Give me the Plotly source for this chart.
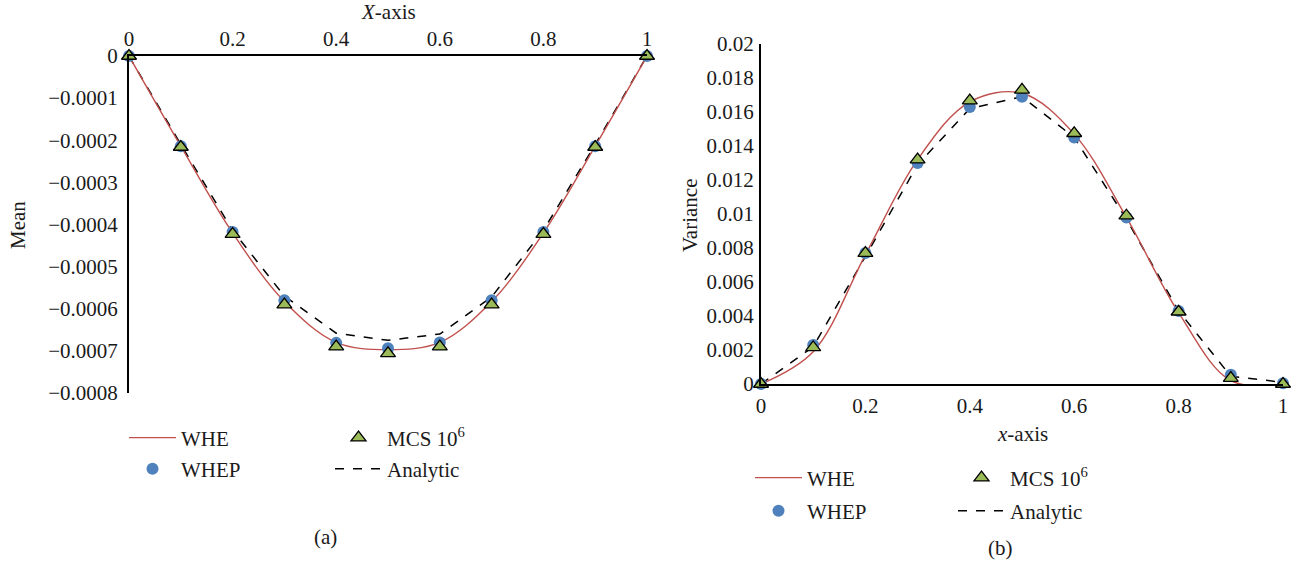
import plotly.graph_objects as go

# ---------------- data ----------------
x_pts = [0, 0.1, 0.2, 0.3, 0.4, 0.5, 0.6, 0.7, 0.8, 0.9, 1.0]

mean_whe = [0, -0.000214, -0.000420, -0.000583, -0.000680, -0.000697, -0.000680, -0.000583, -0.000420, -0.000214, 0]
mean_whep = [0, -0.000214, -0.000418, -0.000580, -0.000681, -0.000694, -0.000680, -0.000580, -0.000418, -0.000214, 0]
mean_mcs = [0, -0.000216, -0.000423, -0.000590, -0.000690, -0.000706, -0.000690, -0.000590, -0.000423, -0.000216, 0]
mean_analytic = [0, -0.000210, -0.000414, -0.000570, -0.000658, -0.000675, -0.000660, -0.000572, -0.000414, -0.000210, 0]

var_whe = [0, 0.0019, 0.0076, 0.0132, 0.0166, 0.0171, 0.0147, 0.0098, 0.0042, 0.0002, 0]
var_whep = [0, 0.0023, 0.0077, 0.0130, 0.0163, 0.0169, 0.0145, 0.0098, 0.0043, 0.00055, 0.00005]
var_mcs = [0, 0.00215, 0.0077, 0.0132, 0.01667, 0.0173, 0.01475, 0.0099, 0.00425, 0.00035, 0]
var_analytic = [0, 0.0022, 0.0075, 0.0129, 0.0162, 0.0169, 0.0145, 0.0097, 0.0043, 0.00045, 0.0001]

x_ticks = [0, 0.2, 0.4, 0.6, 0.8, 1]
x_ticktext = ["0", "0.2", "0.4", "0.6", "0.8", "1"]
mean_ticks = [0, -0.0001, -0.0002, -0.0003, -0.0004, -0.0005, -0.0006, -0.0007, -0.0008]
mean_ticktext = ["0", "\u22120.0001", "\u22120.0002", "\u22120.0003", "\u22120.0004",
                 "\u22120.0005", "\u22120.0006", "\u22120.0007", "\u22120.0008"]
var_ticks = [0, 0.002, 0.004, 0.006, 0.008, 0.01, 0.012, 0.014, 0.016, 0.018, 0.02]
var_ticktext = ["0", "0.002", "0.004", "0.006", "0.008", "0.01", "0.012", "0.014", "0.016", "0.018", "0.02"]

series_names = ["WHE", "WHEP", "MCS 10<sup>6</sup>", "Analytic"]

# ---------------- style ----------------
FONT = "Liberation Serif"
FS = 21
RED = "#C0504D"
BLUE = "#4F81BD"
GREEN = "#9BBB59"
TXT = "#1a1a1a"
W, H = 1299, 562

fig = go.Figure()


def add_set(xa, ya, whe, whep, mcs, ana, legs):
    fig.add_trace(go.Scatter(x=x_pts, y=ana, mode="lines", name=series_names[3],
                             line=dict(color="black", width=1.5, dash="dash"),
                             xaxis=xa, yaxis=ya, legend=legs[3], cliponaxis=False))
    fig.add_trace(go.Scatter(x=x_pts, y=whe, mode="lines", name=series_names[0],
                             line=dict(color=RED, width=1.4, shape="spline", smoothing=1.0),
                             xaxis=xa, yaxis=ya, legend=legs[0], cliponaxis=False))
    fig.add_trace(go.Scatter(x=x_pts, y=whep, mode="markers", name=series_names[1],
                             marker=dict(color=BLUE, size=12, symbol="circle"),
                             xaxis=xa, yaxis=ya, legend=legs[1], cliponaxis=False))
    fig.add_trace(go.Scatter(x=x_pts, y=mcs, mode="markers", name=series_names[2],
                             marker=dict(color=GREEN, size=13, symbol="triangle-up",
                                         line=dict(color="black", width=1.3)),
                             xaxis=xa, yaxis=ya, legend=legs[2], cliponaxis=False))


add_set("x", "y", mean_whe, mean_whep, mean_mcs, mean_analytic,
        ["legend", "legend2", "legend3", "legend4"])
add_set("x2", "y2", var_whe, var_whep, var_mcs, var_analytic,
        ["legend5", "legend6", "legend7", "legend8"])


def px_x(p):
    return p / W


def px_y(p):
    return 1 - p / H


tickfont = dict(family=FONT, size=FS, color=TXT)
common_ax = dict(showgrid=False, zeroline=False, showline=True, linecolor="black",
                 linewidth=2, ticks="outside", tickcolor="rgba(0,0,0,0)", tickfont=tickfont,
                 automargin=False)

layout = dict(
    width=W, height=H,
    margin=dict(l=0, r=0, t=0, b=0, autoexpand=False),
    paper_bgcolor="white", plot_bgcolor="white",
    showlegend=True,
    font=dict(family=FONT, size=FS, color=TXT),
    xaxis=dict(domain=[px_x(129), px_x(647)], range=[0, 1], side="top", anchor="y",
               tickvals=x_ticks, ticktext=x_ticktext, ticklen=4, ticklabelstandoff=-4,
               **common_ax),
    yaxis=dict(domain=[px_y(393), px_y(56)], range=[-0.0008, 0], anchor="x",
               tickvals=mean_ticks, ticktext=mean_ticktext, ticklen=5, **common_ax),
    xaxis2=dict(domain=[px_x(761), px_x(1283)], range=[0, 1], anchor="y2",
                tickvals=x_ticks, ticktext=x_ticktext, ticklen=2, **common_ax),
    yaxis2=dict(domain=[px_y(384), px_y(44)], range=[0, 0.02], anchor="x2",
                tickvals=var_ticks, ticktext=var_ticktext, ticklen=1, **common_ax),
)

# legends: one per entry, positioned like the reference grid
leg_pos = {
    "legend": (124, 438), "legend2": (124, 469), "legend3": (330, 438), "legend4": (330, 469),
    "legend5": (750, 478), "legend6": (750, 511), "legend7": (953, 478), "legend8": (953, 511),
}
for key, (lx, ly) in leg_pos.items():
    layout[key] = dict(x=px_x(lx), y=px_y(ly), xanchor="left", yanchor="middle",
                       bgcolor="rgba(0,0,0,0)", borderwidth=0, itemwidth=47,
                       font=dict(family=FONT, size=FS, color=TXT))

fig.update_layout(**layout)

ann = [
    dict(text="<i>X</i>-axis", x=px_x(388), y=px_y(12)),
    dict(text="Mean", x=px_x(18), y=px_y(225), textangle=-90),
    dict(text="<i>x</i>-axis", x=px_x(1022), y=px_y(434)),
    dict(text="Variance", x=px_x(690), y=px_y(215), textangle=-90),
    dict(text="(a)", x=px_x(325), y=px_y(537)),
    dict(text="(b)", x=px_x(1000), y=px_y(548)),
]
for a in ann:
    fig.add_annotation(xref="paper", yref="paper", showarrow=False,
                       xanchor="center", yanchor="middle",
                       font=dict(family=FONT, size=FS, color=TXT), **a)

fig.write_html("out.html", config={"displayModeBar": False},
               post_script="document.body.style.margin='0';document.body.style.overflow='hidden';")
